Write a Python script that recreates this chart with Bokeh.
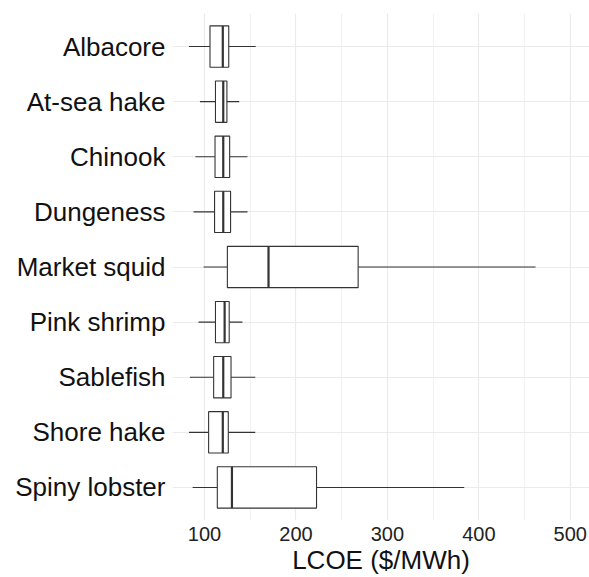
from bokeh.plotting import figure
from bokeh.models import ColumnDataSource, FactorRange, Range1d, FixedTicker
from bokeh.transform import dodge
from bokeh.embed import file_html
from bokeh.resources import INLINE

species = ["Albacore", "At-sea hake", "Chinook", "Dungeness", "Market squid",
           "Pink shrimp", "Sablefish", "Shore hake", "Spiny lobster"]
lower = [83, 95, 90, 88, 99, 93.5, 84, 83, 87]
q1 = [106, 112, 111.5, 111, 125, 112, 110, 104.5, 114]
median = [120, 120.5, 120.5, 120.5, 170, 122, 120.5, 120, 130]
q3 = [126.5, 124.5, 127.5, 128.5, 268, 127, 129, 126, 222.5]
upper = [156, 138, 147, 147, 462, 141.5, 155.5, 155.5, 384]
x_ticks = [100, 200, 300, 400, 500]
x_minor = [150, 250, 350, 450]

src = ColumnDataSource(dict(sp=species, lo=lower, q1=q1, med=median, q3=q3, up=upper))

yr = FactorRange(factors=species[::-1], range_padding=0.1, range_padding_units="absolute")
p = figure(width=589, height=577, y_range=yr, x_range=Range1d(65, 521),
           output_backend="svg", toolbar_location=None,
           min_border_left=172, min_border_right=0, min_border_top=13, min_border_bottom=0)
p.outline_line_color = None
p.background_fill_color = "white"
p.border_fill_color = "white"

lc = "#333333"
p.segment(x0="lo", x1="q1", y0="sp", y1="sp", source=src, line_color=lc, line_width=1.1)
p.segment(x0="q3", x1="up", y0="sp", y1="sp", source=src, line_color=lc, line_width=1.1)
p.hbar(y="sp", left="q1", right="q3", height=0.75, source=src,
       fill_color="white", line_color=lc, line_width=1.1)
p.segment(x0="med", x1="med", y0=dodge("sp", -0.375, range=yr), y1=dodge("sp", 0.375, range=yr),
          source=src, line_color=lc, line_width=2.2)

p.xaxis.ticker = FixedTicker(ticks=x_ticks, minor_ticks=x_minor)
p.xaxis.axis_label = "LCOE ($/MWh)"
for ax in (p.xaxis[0], p.yaxis[0]):
    ax.axis_line_color = None
    ax.major_tick_line_color = None
    ax.minor_tick_line_color = None
    ax.major_tick_out = 0
    ax.minor_tick_out = 0
    ax.major_label_text_font = "Liberation Sans"
    ax.axis_label_text_font = "Liberation Sans"
    ax.axis_label_text_font_style = "normal"
p.xaxis.major_label_text_font_size = "20px"
p.xaxis.major_label_text_color = "#222222"
p.xaxis.major_label_standoff = 6
p.xaxis.axis_label_text_font_size = "26px"
p.xaxis.axis_label_text_color = "#111111"
p.xaxis.axis_label_standoff = 1
p.yaxis.major_label_text_font_size = "26px"
p.yaxis.major_label_text_color = "#111111"
p.yaxis.major_label_standoff = 7

p.xgrid.grid_line_color = "#ebebeb"
p.xgrid.grid_line_width = 1.2
p.xgrid.minor_grid_line_color = "#f2f2f2"
p.xgrid.minor_grid_line_width = 1
p.ygrid.grid_line_color = "#ebebeb"
p.ygrid.grid_line_width = 1.2

open("out.html", "w").write(file_html(p, INLINE))
